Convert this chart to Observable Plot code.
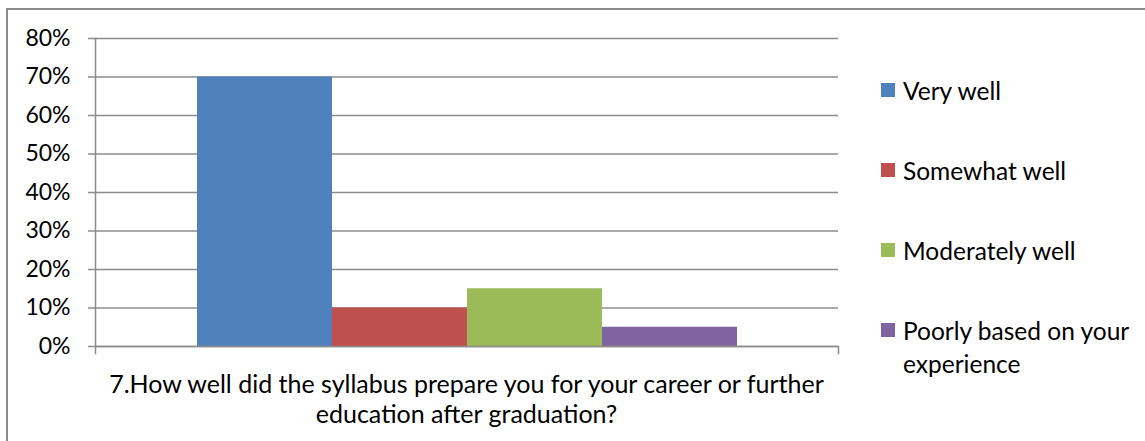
<!DOCTYPE html>
<html>
<head>
<meta charset="utf-8">
<script src="https://cdn.jsdelivr.net/npm/d3@7"></script>
<script src="https://cdn.jsdelivr.net/npm/@observablehq/plot@0.6"></script>
<style>
  html, body { margin: 0; padding: 0; background: #fff; }
  #wrap { position: relative; width: 1145px; height: 441px; overflow: hidden; font-family: Lato, "Open Sans", sans-serif; color: #000; }
  #border { position: absolute; left: 6px; top: 8px; right: -10px; bottom: -10px; border-top: 2px solid #8a8a8a; border-left: 2px solid #8a8a8a; pointer-events: none; }
  #chart { position: absolute; left: 0; top: 0; }
  #xtitle { position: absolute; left: 45px; width: 843px; top: 368px; text-align: center; font-size: 25px; line-height: 30px; white-space: nowrap; }
  .leg { position: absolute; left: 881px; display: flex; align-items: flex-start; font-size: 24.5px; line-height: 33px; }
  .leg .sw { width: 14px; height: 14px; margin-top: 9.5px; margin-right: 8px; flex: none; }
  .leg .tx { max-width: 245px; }
</style>
</head>
<body>
<div id="wrap">
  <div id="chart"></div>
  <div id="xtitle"></div>
  <div id="border"></div>
</div>
<script>
const categories = ["Very well", "Somewhat well", "Moderately well", "Poorly based on your experience"];
const values = [0.70, 0.10, 0.15, 0.05];
const colors = ["#4F81BD", "#C0504D", "#9BBB59", "#8064A2"];
const yTicks = [0, 0.1, 0.2, 0.3, 0.4, 0.5, 0.6, 0.7, 0.8];
const axisTitleLines = ["7.How well did the syllabus prepare you for your career or further", "education after graduation?"];

const data = categories.map((c, i) => ({category: c, value: values[i]}));
const gridColor = "#8c8c8c";

const plot = Plot.plot({
  width: 1145,
  height: 441,
  marginLeft: 95,
  marginRight: 307,
  marginTop: 38,
  marginBottom: 95,
  style: {background: "transparent", fontFamily: "Lato, 'Open Sans', sans-serif", fontSize: "23px", color: "#000"},
  x: {domain: categories, range: [196, 738], padding: 0, axis: null},
  y: {domain: [0, 0.8]},
  color: {domain: categories, range: colors},
  marks: [
    Plot.gridY(yTicks, {stroke: gridColor, strokeOpacity: 1, strokeWidth: 1.5}),
    Plot.barY(data, {x: "category", y: "value", fill: "category"}),
    Plot.ruleY([0], {stroke: gridColor, strokeWidth: 1.5}),
    Plot.axisY(yTicks, {
      tickSize: 7, tickPadding: 18,
      tickFormat: d => Math.round(d * 100) + "%",
      stroke: gridColor, strokeWidth: 1.5, fill: "#000",
      fontSize: 23, label: null
    }),
    Plot.frame({anchor: "left", insetBottom: -7, stroke: gridColor, strokeWidth: 1.5}),
    Plot.frame({anchor: "right", insetTop: 441 - 38 - 95, insetBottom: -7, stroke: gridColor, strokeWidth: 1.5})
  ]
});
document.getElementById("chart").appendChild(plot);

document.getElementById("xtitle").innerHTML = axisTitleLines.join("<br>");

const wrap = document.getElementById("wrap");
categories.forEach((c, i) => {
  const item = document.createElement("div");
  item.className = "leg";
  item.style.top = (73.5 + i * 80) + "px";
  const sw = document.createElement("div");
  sw.className = "sw";
  sw.style.background = colors[i];
  const tx = document.createElement("div");
  tx.className = "tx";
  tx.textContent = c;
  item.appendChild(sw);
  item.appendChild(tx);
  wrap.appendChild(item);
});
</script>
</body>
</html>
